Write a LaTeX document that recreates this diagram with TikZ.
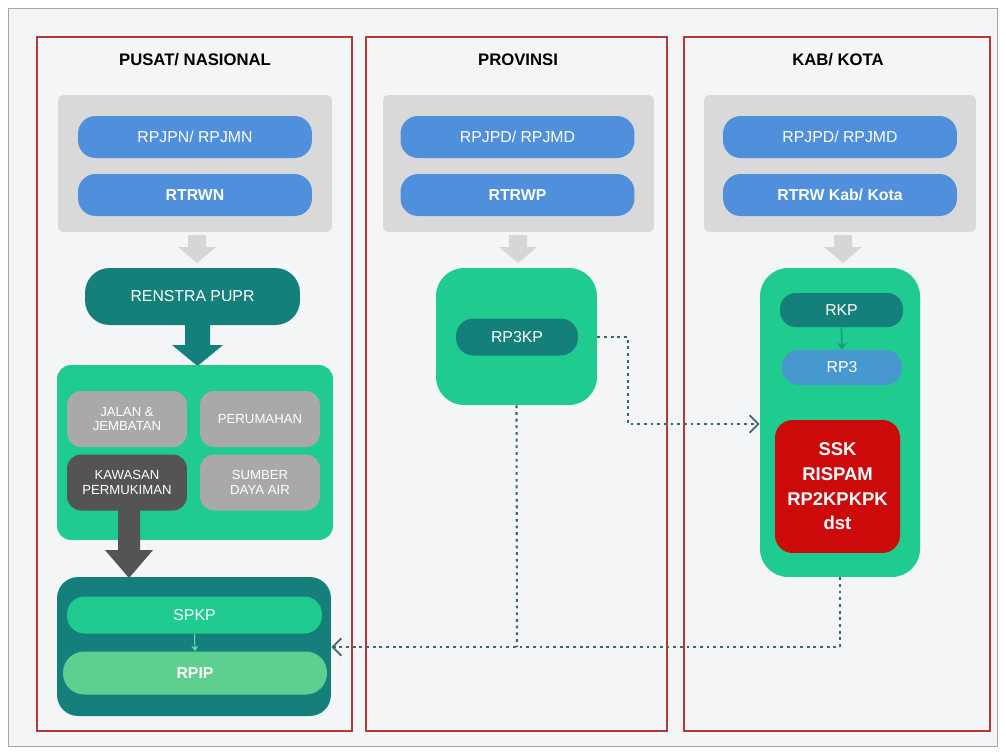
\documentclass[tikz,border=0pt]{standalone}
\usepackage{fontspec}
\setmainfont{Liberation Sans}
\usetikzlibrary{arrows.meta,calc}
\definecolor{bgc}{HTML}{F4F5F6}
\definecolor{colred}{HTML}{B03A3A}
\definecolor{panelgrey}{HTML}{D9D9D9}
\definecolor{pillblue}{HTML}{4F8FDB}
\definecolor{darkteal}{HTML}{147F7B}
\definecolor{brightgreen}{HTML}{1FCB8F}
\definecolor{lightgreen}{HTML}{5FCF8F}
\definecolor{boxgrey}{HTML}{A9A9A9}
\definecolor{darkgrey}{HTML}{545454}
\definecolor{ssk}{HTML}{CC0A0A}
\definecolor{dotc}{HTML}{3A6A6C}
\definecolor{arrgrey}{HTML}{D4D6D8}
\begin{document}
\begin{tikzpicture}[x=0.02cm,y=-0.02cm,
  colbox/.style={draw=colred,line width=0.7pt,fill=bgc},
  title/.style={font=\bfseries\fontsize{9.5}{11}\selectfont,text=black},
  greypanel/.style={fill=panelgrey,rounded corners=3pt,inner sep=0pt},
  bluepill/.style={fill=pillblue,rounded corners=10pt,text=white,font=\fontsize{9}{11}\selectfont,minimum width=4.68cm,minimum height=0.84cm,inner sep=0pt},
  tealpill/.style={fill=darkteal,text=white,font=\fontsize{9}{11}\selectfont,inner sep=0pt},
  greybox/.style={fill=boxgrey,rounded corners=8pt,text=white,font=\fontsize{7.5}{8.5}\selectfont,align=center,minimum width=2.4cm,minimum height=1.12cm,inner sep=0pt},
  conn/.style={dotc,line width=1.2pt,dash pattern=on 1.6pt off 2.2pt},
  tip/.style={-{Straight Barb[length=5pt,width=10pt,line width=1pt]}}]
\useasboundingbox (0,0) rectangle (1006,754);
\fill[white] (0,0) rectangle (1006,754);
\draw[gray!70,fill=bgc,line width=0.5pt] (8,8) rectangle (997,746);
% columns
\draw[colbox] (37,37) rectangle (352,731);
\draw[colbox] (366,37) rectangle (667,731);
\draw[colbox] (684,37) rectangle (990,731);
\node[title] (t1) at (195,60) {PUSAT/ NASIONAL};
\node[title] (t2) at (518,60) {PROVINSI};
\node[title] (t3) at (838,60) {KAB/ KOTA};
% grey panels
\node[greypanel,minimum width=5.48cm,minimum height=2.74cm] (gp1) at (195,163.5) {};
\node[greypanel,minimum width=5.42cm,minimum height=2.74cm] (gp2) at (518.5,163.5) {};
\node[greypanel,minimum width=5.44cm,minimum height=2.74cm] (gp3) at (840,163.5) {};
\node[bluepill] (b11) at (195,137) {RPJPN/ RPJMN};
\node[bluepill] (b12) at (195,195) {\bfseries RTRWN};
\node[bluepill] (b21) at (517.5,137) {RPJPD/ RPJMD};
\node[bluepill] (b22) at (517.5,195) {\bfseries RTRWP};
\node[bluepill] (b31) at (840,137) {RPJPD/ RPJMD};
\node[bluepill] (b32) at (840,195) {\bfseries RTRW Kab/ Kota};
% small grey arrows
\foreach \cx in {197,518,843}{
  \fill[arrgrey] (\cx-9,235) -- (\cx+9,235) -- (\cx+9,247) -- (\cx+19,247) -- (\cx,263) -- (\cx-19,247) -- (\cx-9,247) -- cycle;
}
% column 1
\node[tealpill,rounded corners=14pt,minimum width=4.3cm,minimum height=1.14cm] (renstra) at (192.5,296.5) {RENSTRA PUPR};
\fill[darkteal] (185,325) -- (210,325) -- (210,345) -- (223,345) -- (197.5,366) -- (172,345) -- (185,345) -- cycle;
\node[fill=brightgreen,rounded corners=8pt,minimum width=5.52cm,minimum height=3.5cm,inner sep=0pt] (bidang) at (195,452.5) {};
\node[greybox] (jalan) at (127,419) {JALAN \&\\JEMBATAN};
\node[greybox] (rumah) at (260,419) {PERUMAHAN};
\node[greybox,fill=darkgrey] (kawasan) at (127,482.5) {KAWASAN\\PERMUKIMAN};
\node[greybox] (sda) at (260,482.5) {SUMBER\\DAYA AIR};
\fill[darkgrey] (118,510) -- (140,510) -- (140,550) -- (153,550) -- (129,578) -- (105,550) -- (118,550) -- cycle;
\node[fill=darkteal,rounded corners=12pt,minimum width=5.48cm,minimum height=2.78cm,inner sep=0pt] (ppanel) at (194,646.5) {};
\node[fill=brightgreen,rounded corners=10pt,minimum width=5.1cm,minimum height=0.74cm,inner sep=0pt,text=white,font=\fontsize{9}{11}\selectfont] (spkp) at (194.5,615) {SPKP};
\node[fill=lightgreen,rounded corners=12pt,minimum width=5.28cm,minimum height=0.86cm,inner sep=0pt,text=white,font=\bfseries\fontsize{9}{11}\selectfont] (rpip) at (195,673) {RPIP};
\draw[brightgreen!70!white,line width=0.6pt,-{Stealth[length=3pt,width=4pt]}] (spkp.south) -- (rpip.north);
% column 2
\node[fill=brightgreen,rounded corners=16pt,minimum width=3.22cm,minimum height=2.74cm,inner sep=0pt] (provbox) at (516.5,336.5) {};
\node[tealpill,rounded corners=10pt,minimum width=2.44cm,minimum height=0.74cm] (rp3kp) at (517,337) {RP3KP};
% column 3
\node[fill=brightgreen,rounded corners=16pt,minimum width=3.2cm,minimum height=6.18cm,inner sep=0pt] (kabbox) at (840,422.5) {};
\node[tealpill,rounded corners=9pt,minimum width=2.46cm,minimum height=0.68cm] (rkp) at (841.5,310) {RKP};
\node[fill=pillblue!85!brightgreen,rounded corners=9.5pt,minimum width=2.4cm,minimum height=0.7cm,inner sep=0pt,text=white,font=\fontsize{9}{11}\selectfont] (rp3) at (842,367.5) {RP3};
\draw[darkteal!60!brightgreen,line width=1pt,-{Stealth[length=4pt,width=6pt]}] (rkp.south) -- (rp3.north);
\node[fill=ssk,rounded corners=10pt,minimum width=2.5cm,minimum height=2.66cm,inner sep=0pt,text=white,align=center,font=\bfseries\fontsize{10.5}{14}\selectfont] (sskbox) at (837.5,486.5) {SSK\\RISPAM\\RP2KPKPK\\dst};
% connectors
\coordinate (c1) at (628,424);
\coordinate (jn) at (517,647);
\draw[conn,tip] (provbox.east |- rp3kp.center) -| (c1) -- (c1 -| kabbox.west);
\draw[conn] (provbox.south) -- (jn);
\draw[conn,tip] (kabbox.south) |- (ppanel.east |- jn);
\end{tikzpicture}
\end{document}
